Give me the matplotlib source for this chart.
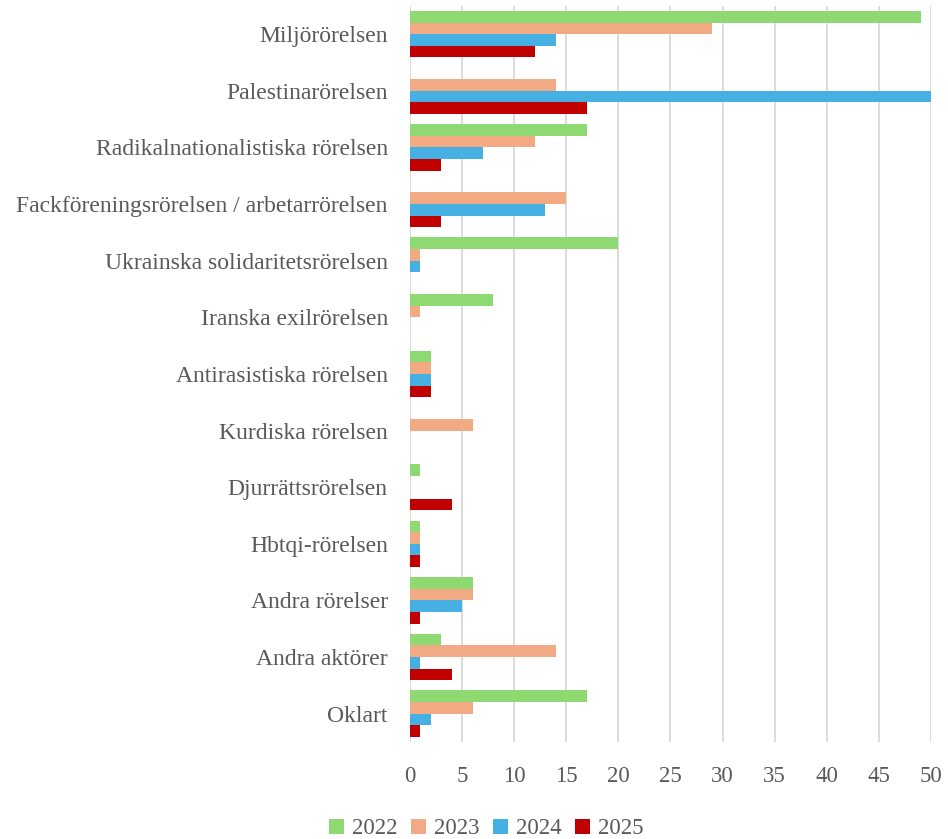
import matplotlib
matplotlib.use("Agg")
import matplotlib.pyplot as plt
import numpy as np

categories = ["Miljörörelsen", "Palestinarörelsen", "Radikalnationalistiska rörelsen",
              "Fackföreningsrörelsen / arbetarrörelsen", "Ukrainska solidaritetsrörelsen",
              "Iranska exilrörelsen", "Antirasistiska rörelsen", "Kurdiska rörelsen",
              "Djurrättsrörelsen", "Hbtqi-rörelsen", "Andra rörelser", "Andra aktörer", "Oklart"]
years = ["2022", "2023", "2024", "2025"]
v2022 = [49, 0, 17, 0, 20, 8, 2, 0, 1, 1, 6, 3, 17]
v2023 = [29, 14, 12, 15, 1, 1, 2, 6, 0, 1, 6, 14, 6]
v2024 = [14, 50, 7, 13, 1, 0, 2, 0, 0, 1, 5, 1, 2]
v2025 = [12, 17, 3, 3, 0, 0, 2, 0, 4, 1, 1, 4, 1]
xticks = [0, 5, 10, 15, 20, 25, 30, 35, 40, 45, 50]

colors = ["#8FD973", "#F2AA84", "#45B0E1", "#C00000"]
series = [v2022, v2023, v2024, v2025]

plt.rcParams['font.family'] = ['Liberation Serif', 'DejaVu Serif']
fig = plt.figure(figsize=(9.48, 8.39), dpi=100)
ax = fig.add_axes([0.4325, 0.1156, 0.5495, 0.8774])

y = np.arange(len(categories))
h = 0.205
for i, (vals, c, lab) in enumerate(zip(series, colors, years)):
    ax.barh(y + (i - 1.5) * h, vals, height=h, color=c, label=lab, zorder=3)

ax.set_xlim(0, 50)
ax.set_ylim(len(categories) - 0.5, -0.5)
ax.set_yticks(y)
ax.set_yticklabels(categories, fontsize=17, color="#595959")
ax.set_xticks(xticks)
ax.set_xticklabels([str(t) for t in xticks], fontsize=16.5, color="#595959")
ax.tick_params(axis="both", length=0)
ax.tick_params(axis="x", pad=17)
ax.tick_params(axis="y", pad=16)
for s in ax.spines.values():
    s.set_visible(False)
ax.grid(axis="x", color="#D9D9D9", linewidth=1.3, zorder=0)
ax.set_axisbelow(True)

leg = fig.legend(loc="lower center", bbox_to_anchor=(0.513, -0.025), ncol=4, frameon=False,
                 fontsize=16.5, handlelength=0.65, handleheight=0.65, columnspacing=0.6,
                 handletextpad=0.35)
for t in leg.get_texts():
    t.set_color("#595959")

fig.savefig("out.png", dpi=100)
